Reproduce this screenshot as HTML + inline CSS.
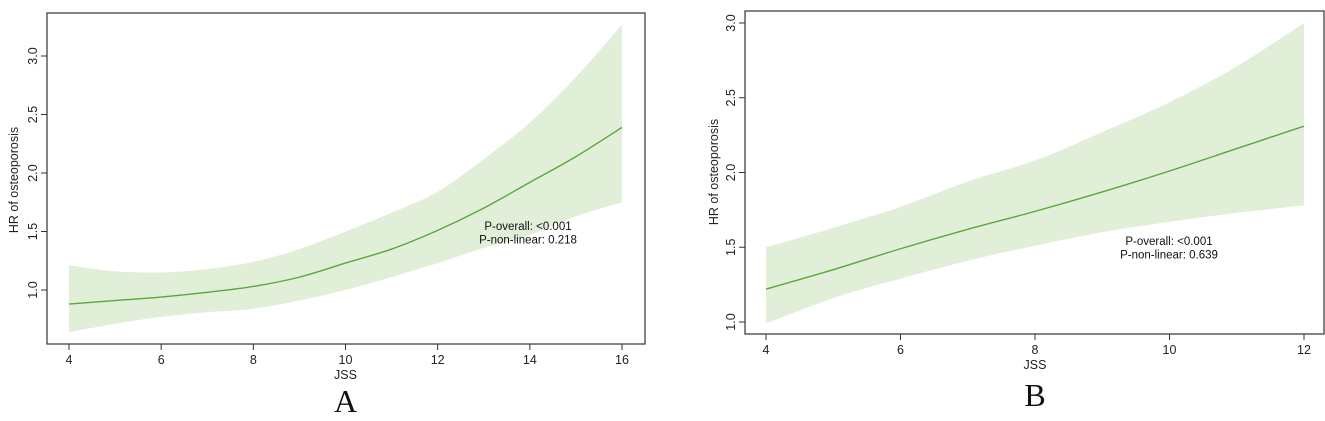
<!DOCTYPE html>
<html><head><meta charset="utf-8"><style>
body{margin:0;background:#fff;}
svg{display:block;font-family:"Liberation Sans",Arial,sans-serif;}
</style></head><body>
<svg id="chart" width="1325" height="421"></svg>
<script>
const xA=[4,5,6,7,8,9,10,11,12,13,14,15,16];
const fitA=[0.88,0.91,0.94,0.98,1.03,1.11,1.23,1.35,1.51,1.70,1.92,2.14,2.39];
const upA=[1.21,1.16,1.15,1.18,1.24,1.35,1.50,1.66,1.84,2.12,2.43,2.82,3.27];
const loA=[0.64,0.71,0.77,0.81,0.84,0.91,1.00,1.11,1.23,1.36,1.47,1.63,1.75];
const xtA=[4,6,8,10,12,14,16];
const ytA=[1.0,1.5,2.0,2.5,3.0];
const xB=[4,5,6,7,8,9,10,11,12];
const fitB=[1.22,1.35,1.49,1.62,1.74,1.87,2.01,2.16,2.31];
const upB=[1.50,1.63,1.77,1.94,2.08,2.27,2.47,2.71,3.00];
const loB=[0.99,1.16,1.29,1.41,1.51,1.60,1.67,1.73,1.78];
const xtB=[4,6,8,10,12];
const ytB=[1.0,1.5,2.0,2.5,3.0];
const NS='http://www.w3.org/2000/svg';
const svg=document.getElementById('chart');
function mk(t,a,p){const e=document.createElementNS(NS,t);for(const k in a)e.setAttribute(k,a[k]);(p||svg).appendChild(e);return e;}
function smooth(pts){let d='M'+pts[0][0]+','+pts[0][1];
 for(let i=0;i<pts.length-1;i++){const p0=pts[i-1]||pts[i],p1=pts[i],p2=pts[i+1],p3=pts[i+2]||p2;
  d+=' C'+(p1[0]+(p2[0]-p0[0])/6)+','+(p1[1]+(p2[1]-p0[1])/6)+' '+(p2[0]-(p3[0]-p1[0])/6)+','+(p2[1]-(p3[1]-p1[1])/6)+' '+p2[0]+','+p2[1];}
 return d;}
function panel(c){
 const g=mk('g',{});
 
 
 const sx=v=>c.x0+(v-c.xmin)*(c.x1-c.x0)/(c.xmax-c.xmin);
 const sy=v=>c.y0+(v-1)*(c.y3-c.y0)/2;
 const up=c.xs.map((x,i)=>[sx(x),sy(c.up[i])]);
 const lo=c.xs.map((x,i)=>[sx(x),sy(c.lo[i])]).reverse();
 const band=mk('path',{d:smooth(up)+' L'+smooth(lo).slice(1)+' Z',fill:'#e1efd9',stroke:'none'},g);
 
 
 const line=mk('path',{d:smooth(c.xs.map((x,i)=>[sx(x),sy(c.fit[i])])),fill:'none',stroke:'#5aa83c','stroke-width':1.4},g);
 
 
 const box=mk('rect',{x:c.bl,y:c.bt,width:c.br-c.bl,height:c.bb-c.bt,fill:'none',stroke:'#333','stroke-width':1.2},g);
 
 
 mk('line',{x1:sx(c.xt[0]),x2:sx(c.xt[c.xt.length-1]),y1:c.bb,y2:c.bb,stroke:'#333'},g);
 c.xt.forEach(v=>{mk('line',{x1:sx(v),x2:sx(v),y1:c.bb,y2:c.bb+6,stroke:'#333'},g);
  const t=mk('text',{x:sx(v),y:c.bb+20,'text-anchor':'middle','font-size':12.5,fill:'#222'},g);t.textContent=v;
  
  });
 c.yt.forEach(v=>{mk('line',{x1:c.bl,x2:c.bl-6,y1:sy(v),y2:sy(v),stroke:'#333'},g);
  const t=mk('text',{x:c.bl-10,y:sy(v),'text-anchor':'middle','font-size':12.5,fill:'#222',transform:'rotate(-90 '+(c.bl-10)+' '+sy(v)+')'},g);t.textContent=v.toFixed(1);
  
  });
 const xt=mk('text',{x:(sx(c.xmin)+sx(c.xmax))/2,y:c.bb+35,'text-anchor':'middle','font-size':12.5,fill:'#222'},g);xt.textContent='JSS';
 
 
 const yt=mk('text',{x:c.yx,y:c.yc,'text-anchor':'middle','font-size':12.5,fill:'#222',transform:'rotate(-90 '+c.yx+' '+c.yc+')'},g);yt.textContent='HR of osteoporosis';
 
 
 const a1=mk('text',{x:c.ax,y:c.ay,'text-anchor':'middle','font-size':11.5,fill:'#111'},g);a1.textContent=c.a1;
 
 
 const a2=mk('text',{x:c.ax,y:c.ay+13.5,'text-anchor':'middle','font-size':11.5,fill:'#111'},g);a2.textContent=c.a2;
 
 
 const L=mk('text',{x:(sx(c.xmin)+sx(c.xmax))/2,y:c.ly,'text-anchor':'middle','font-size':32,'font-family':'Liberation Serif,serif',fill:'#111'},g);L.textContent=c.label;
 
 
}
panel({name:'panel-a',xs:xA,fit:fitA,up:upA,lo:loA,xt:xtA,yt:ytA,xmin:4,xmax:16,x0:69,x1:622,y0:290,y3:56,
 bl:47,br:645,bt:13,bb:344,yx:18,yc:180,ax:528,ay:230,a1:'P-overall: <0.001',a2:'P-non-linear: 0.218',label:'A',ly:412});
panel({name:'panel-b',xs:xB,fit:fitB,up:upB,lo:loB,xt:xtB,yt:ytB,xmin:4,xmax:12,x0:766,x1:1304,y0:322,y3:23,
 bl:745,br:1324,bt:11,bb:334,yx:718,yc:172,ax:1169,ay:245,a1:'P-overall: <0.001',a2:'P-non-linear: 0.639',label:'B',ly:406});
</script>
</body></html>
